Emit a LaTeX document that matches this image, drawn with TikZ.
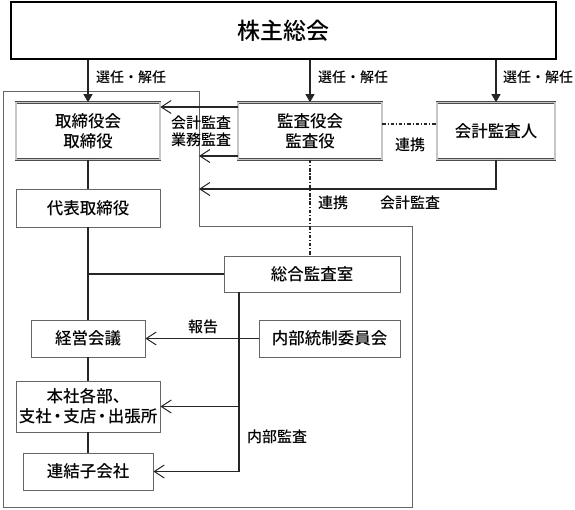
\documentclass[tikz,border=0pt]{standalone}
\usepackage{fontspec}
\setmainfont{Noto Sans CJK JP}[UprightFont=* Medium]
\usetikzlibrary{arrows.meta}
\newcommand{\ndot}{\kern-2.5pt・\kern-2.5pt}
\tikzset{
  boxbase/.style={rectangle, inner sep=0pt, align=center, font=\fontsize{16.5}{20}\selectfont},
  plainbox/.style={boxbase, draw=black!60, line width=0.8pt, fill=white},
  dblbox/.style={boxbase, draw=black!70, line width=0.6pt, double=gray!45, double distance=1.6pt, fill=white},
  topbox/.style={boxbase, draw=black, line width=2pt, font=\fontsize{23}{26}\selectfont},
  conn/.style={draw=black!85, line width=1.2pt},
  darr/.style={conn, -{Triangle[length=8pt,width=9pt]}},
  oarr/.style={conn, -{Straight Barb[length=10pt,width=13pt,line width=1pt]}},
  dashdot/.style={draw=black!85, line width=1.1pt, dash pattern=on 3.5pt off 1.8pt on 1.2pt off 1.8pt},
  lbl/.style={inner sep=0pt, font=\fontsize{15}{17}\selectfont, align=center},
  selbl/.style={inner sep=0pt, font=\fontsize{14}{16}\selectfont, anchor=west}
}
\begin{document}
\begin{tikzpicture}[x=1pt,y=-1pt]
\useasboundingbox (0,0) rectangle (575,509);
% container
\draw[draw=black!60, line width=0.8pt] (3,91) -- (199,91) -- (199,226) -- (412,226) -- (412,507) -- (3,507) -- cycle;
\coordinate (ce) at (199,91);
\coordinate (acc) at (199,189);

\node[topbox, minimum width=545pt, minimum height=57pt] (share) at (283.5,30.5) {株主総会};
\node[dblbox, minimum width=144pt, minimum height=57pt] (board) at (88,131) {取締役会\\取締役};
\node[dblbox, minimum width=144pt, minimum height=57pt] (audit) at (310,131) {監査役会\\監査役};
\node[dblbox, minimum width=118pt, minimum height=57pt] (auditor) at (496,131) {会計監査人};
\node[plainbox, minimum width=144pt, minimum height=38pt] (rep) at (88,208) {代表取締役};
\node[plainbox, minimum width=176pt, minimum height=36pt] (iad) at (312,274) {総合監査室};
\node[plainbox, minimum width=114pt, minimum height=37pt] (mgmt) at (88,338.5) {経営会議};
\node[plainbox, minimum width=141pt, minimum height=37pt] (icc) at (329.5,338.5) {内部統制委員会};
\node[plainbox, minimum width=144pt, minimum height=51pt] (hq) at (88,406.5) {本社各部、\\支社\ndot 支店\ndot 出張所};
\node[plainbox, minimum width=130pt, minimum height=37pt] (subs) at (88,471.5) {連結子会社};

% appointment arrows
\draw[darr] (board.north |- share.south) -- (board.north);
\draw[darr] (audit.north |- share.south) -- (audit.north);
\draw[darr] (auditor.north |- share.south) -- (auditor.north);
\node[selbl] (s1) at (96,77) {選任・解任};
\node[selbl] (s2) at (318,77) {選任・解任};
\node[selbl] (s3) at (503,77) {選任・解任};

% audit board -> board
\draw[oarr] ([yshift=24pt]audit.west) -- ([yshift=24pt]board.east);
\draw[oarr] ([yshift=-25pt]audit.west) -- ([yshift=-25pt]audit.west -| ce);
\node[lbl] (l1) at (201,131.5) {会計監査\\業務監査};

% accounting auditor
\draw[oarr] (auditor.south) |- (acc);
\node[lbl] (l2) at (410,203) {会計監査};

% cooperation
\draw[dashdot] ([yshift=7pt]audit.east) -- ([yshift=7pt]auditor.west);
\node[lbl] (l3) at (410,145) {連携};
\draw[dashdot] (audit.south) -- (audit.south |- iad.north);
\node[lbl] (l4) at (333,203) {連携};

% main chain
\draw[conn] (board.south) -- (rep.north);
\draw[conn] (rep.south) -- (mgmt.north);
\draw[conn] (rep.south |- iad.west) -- (iad.west);
\draw[conn] (mgmt.south) -- (hq.north);
\draw[conn] (hq.south) -- (subs.north);

% report
\draw[oarr] (icc.west) -- (mgmt.east);
\node[lbl] (l5) at (203,327) {報告};

% internal audit
\coordinate (ia) at ([xshift=-73pt]iad.south);
\draw[conn] (ia) -- (ia |- subs.east);
\draw[oarr] (ia |- hq.east) -- (hq.east);
\draw[oarr] (ia |- subs.east) -- (subs.east);
\node[lbl] (l6) at (277,437) {内部監査};
\end{tikzpicture}
\end{document}
